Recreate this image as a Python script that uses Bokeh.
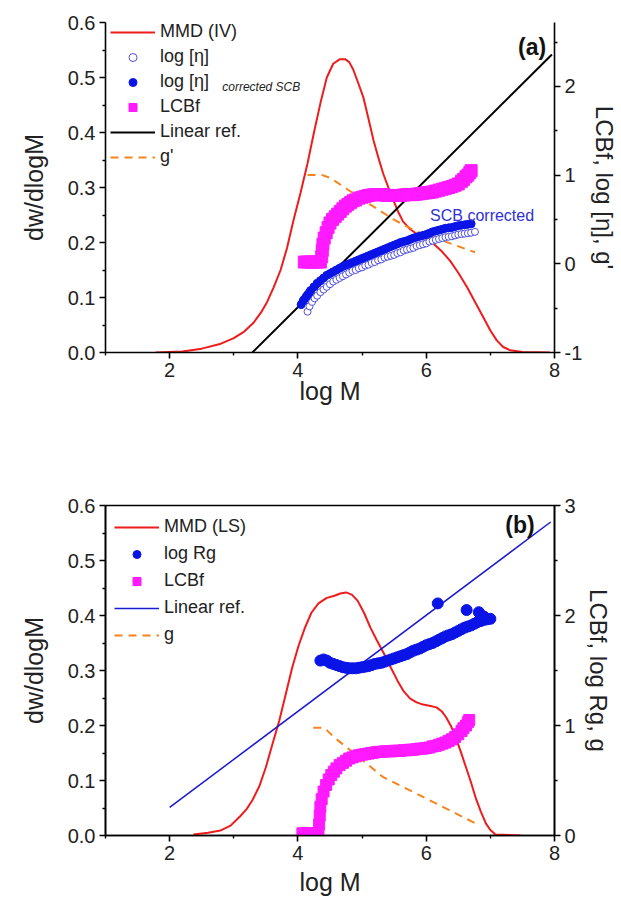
import math
from bokeh.plotting import figure
from bokeh.layouts import column
from bokeh.models import (Range1d, LinearAxis, FixedTicker, PrintfTickFormatter,
                          Legend, LegendItem, Label)
from bokeh.embed import file_html
from bokeh.resources import INLINE

FONT = "Liberation Sans"

# ---------------- Panel (a) data ----------------
mmd_iv_x = [1.78, 2.2, 2.5, 2.8, 3.0, 3.15, 3.3, 3.42, 3.52, 3.62, 3.73, 3.83, 3.93, 4.04, 4.15,
            4.25, 4.35, 4.45, 4.55, 4.65, 4.74, 4.80, 4.86, 4.94, 5.02, 5.10, 5.18, 5.26, 5.33,
            5.41, 5.49, 5.57, 5.64, 5.75, 5.86, 6.0, 6.11, 6.25, 6.37, 6.5, 6.64, 6.77, 6.89,
            7.0, 7.1, 7.2, 7.31, 7.5, 7.93]
mmd_iv_y = [0.0, 0.002, 0.007, 0.016, 0.026, 0.037, 0.053, 0.072, 0.092, 0.118, 0.150, 0.19, 0.24,
            0.29, 0.344, 0.40, 0.453, 0.50, 0.525, 0.533, 0.533, 0.528, 0.515, 0.49, 0.464, 0.425,
            0.385, 0.352, 0.325, 0.30, 0.276, 0.254, 0.238, 0.224, 0.215, 0.207, 0.198, 0.183,
            0.167, 0.145, 0.118, 0.09, 0.064, 0.04, 0.022, 0.01, 0.004, 0.001, 0.0]

lin_a_x = [3.29, 7.96]
lin_a_y = [-1.0, 2.36]

eta_x = [4.15, 4.18, 4.22, 4.26, 4.30, 4.35, 4.40, 4.45, 4.50, 4.55, 4.60, 4.65, 4.70, 4.75,
         4.80, 4.85, 4.90, 4.95, 5.00, 5.05, 5.10, 5.15, 5.20, 5.25, 5.30, 5.35, 5.40, 5.45,
         5.50, 5.55, 5.60, 5.65, 5.70, 5.75, 5.80, 5.85, 5.90, 5.95, 6.00, 6.05, 6.10, 6.15,
         6.20, 6.25, 6.30, 6.35, 6.40, 6.45, 6.50, 6.55, 6.60, 6.65, 6.70, 6.76]
eta_y = [-0.54, -0.48, -0.43, -0.39, -0.36, -0.32, -0.29, -0.26, -0.23, -0.20, -0.18, -0.16,
         -0.14, -0.12, -0.10, -0.08, -0.07, -0.05, -0.04, -0.02, -0.01, 0.01, 0.02, 0.04, 0.05,
         0.07, 0.08, 0.09, 0.10, 0.12, 0.13, 0.15, 0.16, 0.17, 0.18, 0.20, 0.21, 0.22, 0.23,
         0.25, 0.26, 0.27, 0.28, 0.29, 0.30, 0.305, 0.31, 0.32, 0.33, 0.335, 0.34, 0.345, 0.35, 0.36]

eta_corr_x = [4.05, 4.08, 4.10, 4.13, 4.15, 4.18, 4.20, 4.25, 4.30, 4.35, 4.40, 4.45, 4.50,
              4.55, 4.60, 4.65, 4.70, 4.75, 4.80, 4.85, 4.90, 4.95, 5.00, 5.05, 5.10, 5.15,
              5.20, 5.25, 5.30, 5.35, 5.40, 5.45, 5.50, 5.55, 5.60, 5.65, 5.70, 5.75, 5.80,
              5.85, 5.90, 5.95, 6.00, 6.05, 6.10, 6.15, 6.20, 6.25, 6.30, 6.35, 6.40, 6.45,
              6.50, 6.55, 6.60, 6.65, 6.70]
eta_corr_y = [-0.46, -0.42, -0.40, -0.37, -0.35, -0.32, -0.30, -0.26, -0.22, -0.19, -0.16,
              -0.13, -0.11, -0.09, -0.07, -0.05, -0.03, -0.015, 0.00, 0.015, 0.03, 0.045, 0.06,
              0.075, 0.09, 0.105, 0.12, 0.135, 0.15, 0.165, 0.18, 0.195, 0.21, 0.225, 0.24,
              0.25, 0.26, 0.275, 0.29, 0.30, 0.31, 0.32, 0.33, 0.345, 0.36, 0.37, 0.38, 0.39,
              0.40, 0.405, 0.41, 0.42, 0.43, 0.435, 0.44, 0.445, 0.45]

lcb_a_x = [4.10, 4.15, 4.20, 4.25, 4.30, 4.35, 4.37, 4.38, 4.39, 4.41, 4.44, 4.47, 4.50, 4.54,
           4.58, 4.62, 4.66, 4.70, 4.74, 4.78, 4.82, 4.86, 4.90, 4.95, 5.00, 5.05, 5.10, 5.15,
           5.20, 5.25, 5.30, 5.35, 5.40, 5.45, 5.50, 5.55, 5.60, 5.65, 5.70, 5.75, 5.80, 5.85,
           5.90, 5.95, 6.00, 6.05, 6.10, 6.15, 6.20, 6.25, 6.30, 6.35, 6.40, 6.45, 6.50, 6.55,
           6.58, 6.62, 6.65, 6.68, 6.70]
lcb_a_y = [0.02, 0.02, 0.02, 0.02, 0.02, 0.02, 0.08, 0.15, 0.22, 0.29, 0.35, 0.41, 0.46, 0.50,
           0.53, 0.56, 0.59, 0.62, 0.65, 0.67, 0.69, 0.71, 0.72, 0.74, 0.75, 0.76, 0.77, 0.775,
           0.78, 0.78, 0.78, 0.775, 0.77, 0.77, 0.77, 0.77, 0.77, 0.775, 0.78, 0.78, 0.78, 0.785,
           0.79, 0.795, 0.80, 0.805, 0.81, 0.82, 0.83, 0.84, 0.85, 0.86, 0.87, 0.885, 0.90, 0.93,
           0.95, 0.98, 1.00, 1.03, 1.05]

gp_x = [4.15, 4.38, 4.50, 4.77, 5.08, 5.49, 5.86, 6.22, 6.76]
gp_y = [1.00, 1.00, 0.97, 0.84, 0.69, 0.50, 0.36, 0.27, 0.13]

# ---------------- Panel (b) data ----------------
mmd_ls_x = [2.37, 2.6, 2.79, 2.95, 3.1, 3.2, 3.29, 3.4, 3.5, 3.6, 3.71, 3.81, 3.91, 4.01, 4.11,
            4.21, 4.32, 4.45, 4.57, 4.66, 4.75, 4.84, 4.93, 5.03, 5.13, 5.23, 5.34, 5.45, 5.55,
            5.65, 5.75, 5.85, 5.95, 6.05, 6.16, 6.24, 6.31, 6.39, 6.46, 6.54, 6.62, 6.70, 6.77,
            6.85, 6.93, 7.0, 7.08, 7.48]
mmd_ls_y = [0.002, 0.005, 0.009, 0.018, 0.035, 0.048, 0.064, 0.09, 0.124, 0.165, 0.209, 0.257,
            0.305, 0.345, 0.378, 0.405, 0.422, 0.432, 0.436, 0.44, 0.442, 0.438, 0.427, 0.405,
            0.378, 0.355, 0.331, 0.305, 0.282, 0.262, 0.249, 0.242, 0.238, 0.236, 0.233, 0.226,
            0.215, 0.198, 0.178, 0.152, 0.124, 0.096, 0.069, 0.044, 0.022, 0.01, 0.002, 0.0]

lin_b_x = [2.0, 7.94]
lin_b_y = [0.255, 2.85]

rg_x = [4.35, 4.40, 4.45, 4.50, 4.55, 4.60, 4.65, 4.70, 4.75, 4.80, 4.85, 4.90, 4.95, 5.00,
        5.05, 5.10, 5.15, 5.20, 5.25, 5.30, 5.35, 5.40, 5.45, 5.50, 5.55, 5.60, 5.65, 5.70,
        5.75, 5.80, 5.85, 5.90, 5.95, 6.00, 6.05, 6.10, 6.15, 6.20, 6.25, 6.30, 6.35, 6.40,
        6.45, 6.50, 6.55, 6.60, 6.65, 6.70, 6.75, 6.80, 6.85, 6.90, 6.95, 7.00,
        6.18, 6.63, 6.82, 6.86, 6.90]
rg_y = [1.59, 1.60, 1.59, 1.57, 1.56, 1.55, 1.54, 1.53, 1.525, 1.52, 1.52, 1.52, 1.525, 1.53,
        1.535, 1.54, 1.55, 1.56, 1.565, 1.57, 1.58, 1.59, 1.60, 1.61, 1.62, 1.63, 1.64, 1.65,
        1.665, 1.68, 1.69, 1.70, 1.715, 1.73, 1.74, 1.75, 1.765, 1.78, 1.795, 1.81, 1.82, 1.83,
        1.845, 1.86, 1.875, 1.89, 1.90, 1.91, 1.925, 1.94, 1.95, 1.96, 1.965, 1.97,
        2.11, 2.05, 2.03, 2.00, 1.99]

lcb_b_x = [4.07, 4.12, 4.17, 4.22, 4.27, 4.32, 4.33, 4.34, 4.35, 4.37, 4.40, 4.44, 4.48, 4.52,
           4.56, 4.60, 4.65, 4.70, 4.75, 4.80, 4.85, 4.90, 4.95, 5.00, 5.05, 5.10, 5.15, 5.20,
           5.25, 5.30, 5.35, 5.40, 5.45, 5.50, 5.55, 5.60, 5.65, 5.70, 5.75, 5.80, 5.85, 5.90,
           5.95, 6.00, 6.05, 6.10, 6.15, 6.20, 6.25, 6.30, 6.35, 6.40, 6.45, 6.50, 6.55, 6.58,
           6.62, 6.65, 6.67]
lcb_b_y = [0.02, 0.02, 0.02, 0.02, 0.02, 0.02, 0.10, 0.18, 0.26, 0.33, 0.40, 0.46, 0.51, 0.55,
           0.58, 0.61, 0.64, 0.66, 0.68, 0.70, 0.71, 0.72, 0.73, 0.735, 0.74, 0.745, 0.75, 0.755,
           0.76, 0.76, 0.765, 0.765, 0.765, 0.77, 0.77, 0.77, 0.775, 0.775, 0.78, 0.78, 0.785,
           0.79, 0.79, 0.795, 0.80, 0.81, 0.815, 0.825, 0.835, 0.845, 0.86, 0.875, 0.895, 0.92,
           0.95, 0.975, 1.00, 1.03, 1.05]

g_x = [4.24, 4.41, 4.57, 4.87, 5.33, 5.85, 6.36, 6.77]
g_y = [0.98, 0.98, 0.89, 0.75, 0.53, 0.38, 0.23, 0.11]

x_major = [2, 4, 6, 8]
x_minor = [1, 3, 5, 7]
left_major = [0.0, 0.1, 0.2, 0.3, 0.4, 0.5, 0.6]
left_minor = [0.05, 0.15, 0.25, 0.35, 0.45, 0.55]

RED = "#ee1c1c"
ORANGE = "#f5841f"
BLUE = "#0a14e6"
MAGENTA = "#ff1aff"
TXT = "#222222"


def style_axis(ax, fmt, major, minor, label=None, orient=None, size="25px"):
    ax.ticker = FixedTicker(ticks=major, minor_ticks=minor)
    ax.formatter = PrintfTickFormatter(format=fmt)
    ax.axis_line_width = 1.6
    ax.axis_line_color = "black"
    ax.major_tick_line_width = 1.6
    ax.minor_tick_line_width = 1.4
    ax.major_tick_out = 6
    ax.major_tick_in = 0
    ax.minor_tick_out = 3
    ax.minor_tick_in = 0
    ax.major_label_standoff = 4
    ax.major_label_text_font = FONT
    ax.major_label_text_font_size = "20px"
    ax.major_label_text_color = TXT
    if label is not None:
        ax.axis_label = label
        ax.axis_label_text_font = FONT
        ax.axis_label_text_font_size = size
        ax.axis_label_text_font_style = "normal"
        ax.axis_label_text_color = TXT
    if orient is not None:
        ax.axis_label_orientation = orient
        ax.axis_label_standoff = 6


def make_fig(height, top, bottom, left, right, yr_right):
    p = figure(width=621, height=height, x_range=Range1d(1, 8), y_range=Range1d(0, 0.6),
               output_backend="svg", toolbar_location=None,
               min_border_top=top, min_border_bottom=bottom,
               min_border_left=left, min_border_right=right)
    p.extra_y_ranges = {"right": Range1d(*yr_right)}
    p.grid.visible = False
    p.background_fill_color = "white"
    p.border_fill_color = "white"
    return p


def style_legend(leg, spacing):
    leg.margin = 0
    leg.padding = 6
    leg.spacing = spacing
    leg.glyph_width = 45
    leg.glyph_height = 20
    leg.label_height = 20
    leg.label_standoff = 5
    leg.label_text_font = FONT
    leg.label_text_font_size = "18px"
    leg.label_text_color = TXT
    leg.background_fill_alpha = 0
    leg.border_line_color = None


# ---------------- Panel (a) ----------------
pa = make_fig(440, 22, 88, 105, 66, (-1.0, 2.72))
pa.outline_line_color = None
style_axis(pa.xaxis[0], "%d", x_major, x_minor, "log M")
pa.xaxis[0].axis_label_standoff = -3
style_axis(pa.yaxis[0], "%.1f", left_major, left_minor, "dw/dlogM")
pa.yaxis[0].axis_label_standoff = 17
ra = LinearAxis(y_range_name="right")
style_axis(ra, "%d", [-1, 0, 1, 2], [-0.5, 0.5, 1.5, 2.5], "LCBf, log [η], g'",
           "vertical", "24px")
pa.add_layout(ra, "right")

r_mmd_a = pa.line(mmd_iv_x, mmd_iv_y, line_color=RED, line_width=2)
r_lin_a = pa.line(lin_a_x, lin_a_y, line_color="black", line_width=2, y_range_name="right")
r_gp = pa.line(gp_x, gp_y, line_color=ORANGE, line_width=2, line_dash="8 6", y_range_name="right")
r_lcb_a = pa.scatter(lcb_a_x, lcb_a_y, marker="square", size=12, fill_color=MAGENTA,
                     line_color=MAGENTA, y_range_name="right")
r_eta = pa.scatter(eta_x, eta_y, marker="circle", size=7, fill_color="white",
                   line_color="#5050e0", line_width=1, y_range_name="right")
r_etac = pa.scatter(eta_corr_x, eta_corr_y, marker="circle", size=8, fill_color=BLUE,
                    line_color=BLUE, y_range_name="right")

leg_a = Legend(items=[
    LegendItem(label="MMD (IV)", renderers=[r_mmd_a]),
    LegendItem(label="log [η]", renderers=[r_eta]),
    LegendItem(label="log [η]", renderers=[r_etac]),
    LegendItem(label="LCBf", renderers=[r_lcb_a]),
    LegendItem(label="Linear ref.", renderers=[r_lin_a]),
    LegendItem(label="g'", renderers=[r_gp]),
], location=(5, 185))
style_legend(leg_a, 4)
pa.add_layout(leg_a)

pa.add_layout(Label(x=2.82, y=0.482, text="corrected SCB", text_font=FONT,
                    text_font_size="12px", text_font_style="italic", text_color=TXT,
                    text_baseline="middle"))
pa.add_layout(Label(x=7.87, y=0.555, text="(a)", text_font=FONT, text_font_size="23px",
                    text_font_style="bold", text_color="#111111", text_align="right",
                    text_baseline="middle"))
pa.add_layout(Label(x=6.06, y=0.25, text="SCB corrected", text_font=FONT,
                    text_font_size="16px", text_color="#3030d8", text_baseline="middle"))

# ---------------- Panel (b) ----------------
pb = make_fig(464, 65, 69, 101, 64, (0.0, 3.0))
pb.outline_line_color = "black"
pb.outline_line_width = 1.6
pb.outline_line_alpha = 1
style_axis(pb.xaxis[0], "%d", x_major, x_minor, "log M")
style_axis(pb.yaxis[0], "%.1f", left_major, left_minor, "dw/dlogM")
pb.yaxis[0].axis_label_standoff = 17
rb = LinearAxis(y_range_name="right")
style_axis(rb, "%d", [0, 1, 2, 3], [0.5, 1.5, 2.5], "LCBf, log Rg, g", "vertical", "24px")
pb.add_layout(rb, "right")

r_mmd_b = pb.line(mmd_ls_x, mmd_ls_y, line_color=RED, line_width=2)
r_lin_b = pb.line(lin_b_x, lin_b_y, line_color="#1a1ad0", line_width=1.5, y_range_name="right")
r_g = pb.line(g_x, g_y, line_color=ORANGE, line_width=2, line_dash="8 6", y_range_name="right")
r_lcb_b = pb.scatter(lcb_b_x, lcb_b_y, marker="square", size=11, fill_color=MAGENTA,
                     line_color=MAGENTA, y_range_name="right")
r_rg = pb.scatter(rg_x, rg_y, marker="circle", size=11, fill_color=BLUE,
                  line_color=BLUE, y_range_name="right")

leg_b = Legend(items=[
    LegendItem(label="MMD (LS)", renderers=[r_mmd_b]),
    LegendItem(label="log Rg", renderers=[r_rg]),
    LegendItem(label="LCBf", renderers=[r_lcb_b]),
    LegendItem(label="Linear ref.", renderers=[r_lin_b]),
    LegendItem(label="g", renderers=[r_g]),
], location=(9, 190))
style_legend(leg_b, 6)
pb.add_layout(leg_b)

pb.add_layout(Label(x=7.69, y=0.564, text="(b)", text_font=FONT, text_font_size="23px",
                    text_font_style="bold", text_color="#111111", text_align="right",
                    text_baseline="middle"))

layout = column(pa, pb, spacing=0)
open("out.html", "w").write(file_html(layout, INLINE))
